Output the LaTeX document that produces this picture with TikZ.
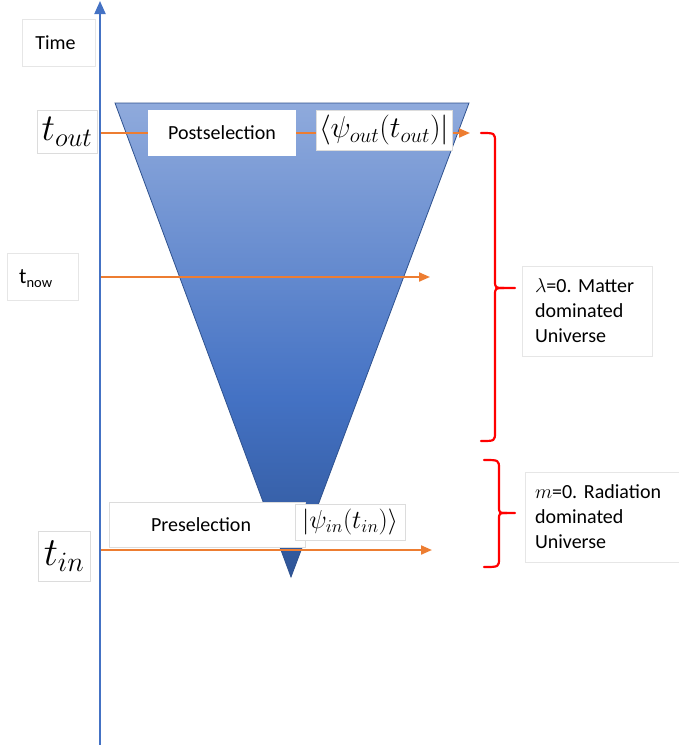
\RequirePackage{fix-cm}
\documentclass[tikz,border=0pt]{standalone}
\usepackage{fontspec}
\setmainfont{Carlito}
\usetikzlibrary{arrows.meta}
\frenchspacing
\definecolor{axisblue}{HTML}{4472C4}
\definecolor{orng}{HTML}{ED7D31}
\definecolor{trtop}{HTML}{8FAADC}
\definecolor{trmid}{HTML}{4472C4}
\definecolor{trbot}{HTML}{2F5597}
\definecolor{trline}{HTML}{2F528F}
\definecolor{boxgray}{HTML}{DCDCDC}
\pgfdeclareverticalshading{coneshade}{100bp}{color(0bp)=(trbot); color(25bp)=(trbot); color(44bp)=(trmid); color(75bp)=(trtop); color(100bp)=(trtop)}
\begin{document}
\begin{tikzpicture}[x=1pt,y=-1pt,
  lbox/.style={draw=boxgray, line width=0.7pt, fill=white, inner sep=0pt},
  wbox/.style={fill=white, inner sep=0pt},
  timeline/.style={orng, line width=2pt, -{Triangle[length=11pt,width=9pt]}},
  bracer/.style={red, line width=2.2pt, line cap=round, line join=round},
  lbl/.style={font=\fontsize{20}{25}\selectfont},
  ]
\useasboundingbox (0,0) rectangle (679,745);

% time axis
\coordinate (axbot) at (100,745);
\coordinate (axtop) at (100,1);
\draw[axisblue, line width=2pt, -{Triangle[length=13pt,width=11pt]}] (axbot) -- (axtop);

% cone
\shadedraw[shading=coneshade, draw=trline, line width=0.8pt]
  (115,103) -- (469,103) -- (291,577) -- cycle;

% time lines
\coordinate (aout) at (101,133); \coordinate (eout) at (470,133);
\coordinate (anow) at (101,277); \coordinate (enow) at (430,277);
\coordinate (ain)  at (101,550); \coordinate (ein)  at (432,550);
\draw[timeline] (aout) -- (eout);
\draw[timeline] (anow) -- (enow);
\draw[timeline] (ain) -- (ein);

% left labels
\node[lbox, draw=boxgray!70, minimum width=73, minimum height=47, lbl] (timebox) at (58.5,42.5) {\hspace{-6pt}Time};
\node[lbox, minimum width=60, minimum height=43] (tout) at (67,131.5) {\fontsize{38}{40}\selectfont$t_{out}$};
\node[lbox, draw=boxgray!70, minimum width=71, minimum height=47] (tnow) at (42.5,276.5) {};
\node[anchor=base west, inner sep=0pt] (tnowtxt) at (19,283) {\fontsize{22}{22}\selectfont t\raisebox{-4.5pt}{\fontsize{14.5}{14.5}\selectfont now}};
\node[lbox, minimum width=52, minimum height=50] (tin) at (64,556) {\fontsize{40}{42}\selectfont$t_{in}$};

% post/preselection
\node[wbox, minimum width=148, minimum height=46, lbl] (post) at (222,133) {Postselection};
\node[lbox, minimum width=136, minimum height=40] (psiout) at (384,130) {\fontsize{30}{32}\selectfont$\langle\psi_{out}(t_{out})|$};
\node[lbox, minimum width=196, minimum height=45, lbl] (pre) at (207,524.5) {\hspace{-12pt}Preselection};
\node[lbox, minimum width=110, minimum height=36] (psiin) at (350,522) {\fontsize{26}{28}\selectfont$|\psi_{in}(t_{in})\rangle$};

% braces
\coordinate (b1t) at (481,133); \coordinate (b1b) at (481,441); \coordinate (b1m) at (515,288);
\draw[bracer] (b1t) .. controls (495,133) .. (495,142) -- (495,280)
  .. controls (495,288) .. (504,288) -- (b1m);
\draw[bracer] (504,288) .. controls (495,288) .. (495,296) -- (495,432)
  .. controls (495,441) .. (b1b);
\coordinate (b2t) at (484,460); \coordinate (b2b) at (484,567); \coordinate (b2m) at (515,513);
\draw[bracer] (b2t) .. controls (499,460) .. (499,469) -- (499,506)
  .. controls (499,513) .. (507,513) -- (b2m);
\draw[bracer] (507,513) .. controls (499,513) .. (499,520) -- (499,558)
  .. controls (499,567) .. (b2b);

% regime labels
\node[lbox, draw=boxgray!70, minimum width=130, minimum height=90, text width=104, inner xsep=13pt, align=left, lbl] (matter) at (587,311)
  {$\lambda$=0. Matter\\dominated\\Universe};
\node[lbox, draw=boxgray!70, minimum width=156, minimum height=90, text width=136, inner xsep=10pt, align=left, lbl] (rad) at (603,517)
  {$m$=0. Radiation\\dominated\\Universe};
\end{tikzpicture}
\end{document}
